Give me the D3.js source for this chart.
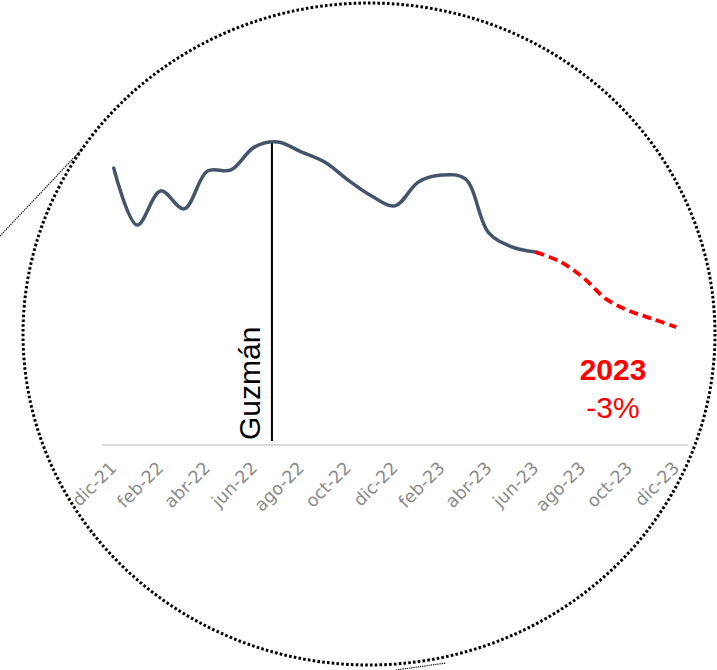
<!DOCTYPE html>
<html>
<head>
<meta charset="utf-8">
<script src="https://cdn.jsdelivr.net/npm/d3@7"></script>
<style>
  body { margin: 0; background: #fff; }
  svg { display: block; }
</style>
</head>
<body>
<svg id="chart" width="717" height="670"></svg>
<script>
let width = +d3.select("svg").attr("width");
let height = +d3.select("svg").attr("height");

// monthly index, dic-21 .. dic-23
let months = [
  "dic-21", "ene-22", "feb-22", "mar-22", "abr-22", "may-22", "jun-22",
  "jul-22", "ago-22", "sep-22", "oct-22", "nov-22", "dic-22",
  "ene-23", "feb-23", "mar-23", "abr-23", "may-23", "jun-23",
  "jul-23", "ago-23", "sep-23", "oct-23", "nov-23", "dic-23"
];
let values = [
  91.3, 72.3, 83.7, 77.7, 90.3, 90.7, 98.3,
  100, 96.7, 93.3, 87.3, 82, 78.7,
  86.7, 89, 87.7, 69.7, 65, 63.3,
  60.3, 55, 47.7, 43.7, 41, 38.3
];
let tickLabels = [
  "dic-21", "feb-22", "abr-22", "jun-22", "ago-22", "oct-22", "dic-22",
  "feb-23", "abr-23", "jun-23", "ago-23", "oct-23", "dic-23"
];
let forecastFrom = "jun-23";
let eventMonth = "jun-22"; // Guzmán line sits just after this month
let eventLabel = "Guzmán";
let noteYear = "2023";
let noteValue = "-3%";

let svg = d3.select("svg");

let x = d3.scaleBand().domain(months).range([102, 688]);
let y = d3.scaleLinear().domain([0, 100]).range([442, 142]);
let cx = function (m) { return x(m) + x.bandwidth() / 2; };

// dotted lens around the chart
svg.append("ellipse")
  .attr("cx", 369).attr("cy", 334)
  .attr("rx", 346).attr("ry", 331)
  .attr("fill", "none")
  .attr("stroke", "#000")
  .attr("stroke-width", 3)
  .attr("stroke-dasharray", "2.6,2.2");

svg.append("line")
  .attr("x1", 0).attr("y1", 236)
  .attr("x2", 83).attr("y2", 148)
  .attr("stroke", "#000")
  .attr("stroke-width", 1.2)
  .attr("stroke-dasharray", "1.2,1");

svg.append("line")
  .attr("x1", 396).attr("y1", 670)
  .attr("x2", 446).attr("y2", 663)
  .attr("stroke", "#000")
  .attr("stroke-width", 1.2)
  .attr("stroke-dasharray", "1.2,1");

// category axis
svg.append("line")
  .attr("x1", x.range()[0]).attr("x2", x.range()[1])
  .attr("y1", 445).attr("y2", 445)
  .attr("stroke", "#d9d9d9")
  .attr("stroke-width", 2);

svg.selectAll(".tick-label")
  .data(tickLabels)
  .enter()
  .append("text")
  .attr("class", "tick-label")
  .attr("transform", function (d) {
    return "translate(" + (cx(d) + 4) + ",469) rotate(-45)";
  })
  .attr("text-anchor", "end")
  .attr("font-family", "DejaVu Sans, sans-serif")
  .attr("font-size", 17.5)
  .attr("fill", "#8a8a8a")
  .text(function (d) { return d; });

// event marker
let ex = cx(eventMonth) + x.step() * 0.75;
svg.append("line")
  .attr("x1", ex).attr("x2", ex)
  .attr("y1", 143).attr("y2", 441)
  .attr("stroke", "#000")
  .attr("stroke-width", 2);

svg.append("text")
  .attr("transform", "translate(" + (ex - 12) + ",440) rotate(-90)")
  .attr("font-family", "Liberation Sans, Arial, sans-serif")
  .attr("font-size", 30)
  .attr("fill", "#000")
  .text(eventLabel);

// series
let pts = months.map(function (m, i) { return { m: m, v: values[i] }; });
let cut = months.indexOf(forecastFrom);

let line = d3.line()
  .x(function (d) { return cx(d.m); })
  .y(function (d) { return y(d.v); })
  .curve(d3.curveCatmullRom);

svg.append("path")
  .datum(pts.slice(0, cut + 1))
  .attr("d", line)
  .attr("fill", "none")
  .attr("stroke", "#44546a")
  .attr("stroke-width", 3.5)
  .attr("stroke-linecap", "round");

svg.append("path")
  .datum(pts.slice(cut))
  .attr("d", line)
  .attr("fill", "none")
  .attr("stroke", "#ff0000")
  .attr("stroke-width", 3.8)
  .attr("stroke-dasharray", "9,5");

// note
svg.append("text")
  .attr("x", 613).attr("y", 380)
  .attr("text-anchor", "middle")
  .attr("font-family", "Liberation Sans, Arial, sans-serif")
  .attr("font-size", 30)
  .attr("font-weight", "bold")
  .attr("fill", "#ff0000")
  .text(noteYear);

svg.append("text")
  .attr("x", 613).attr("y", 418)
  .attr("text-anchor", "middle")
  .attr("font-family", "Liberation Sans, Arial, sans-serif")
  .attr("font-size", 30)
  .attr("fill", "#ff0000")
  .text(noteValue);
</script>
</body>
</html>
